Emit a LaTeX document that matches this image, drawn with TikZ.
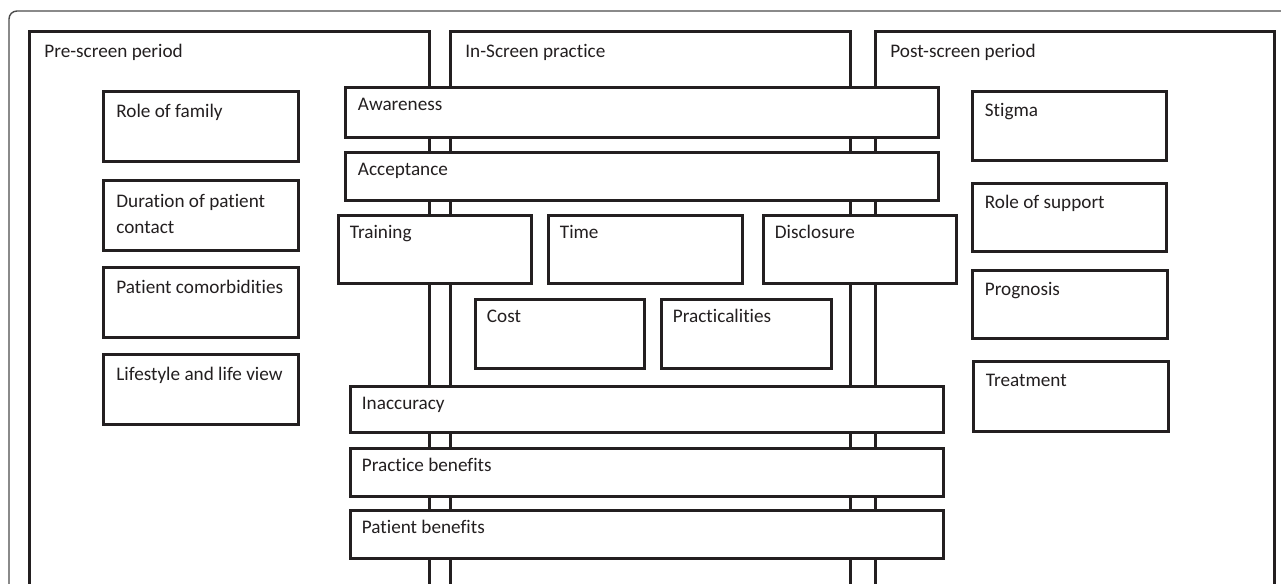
\documentclass[tikz,border=0pt]{standalone}
\usepackage{fontspec}
\setmainfont{Carlito}[Ligatures=NoCommon]
\definecolor{ink}{RGB}{35,31,32}

\begin{document}
\begin{tikzpicture}[x=0.5pt,y=-0.5pt,
  colline/.style={draw=ink,line width=1.5pt},
  box/.style={draw=ink,line width=1.5pt,fill=white,rectangle,inner sep=0pt,anchor=north west},
  txt/.style={anchor=base west,inner sep=0pt,align=left,text=ink,font=\fontsize{9.6}{13}\selectfont}]
\useasboundingbox (0,0) rectangle (1281,584);
\clip (0,0) rectangle (1281,584);
\draw[draw=black!70,line width=0.7pt,rounded corners=4pt] (9,620) |- (1320,11);
\draw[colline] (29,620) |- (429,31) -- (429,620);
\draw[colline] (450,620) |- (850,31) -- (850,620);
\draw[colline] (875,620) |- (1274,31) -- (1274,620);
\node[txt] (pre) at (44,57) {Pre-screen period};
\node[txt] (in) at (465,57) {In-Screen practice};
\node[txt] (post) at (890,57) {Post-screen period};

\node[box,minimum width=97.5pt,minimum height=35pt] (family) at (102,90) {};
\node[box,minimum width=97.5pt,minimum height=35pt] (duration) at (102,179) {};
\node[box,minimum width=97.5pt,minimum height=35pt] (comorb) at (102,266) {};
\node[box,minimum width=97.5pt,minimum height=35pt] (lifestyle) at (102,353) {};
\node[txt] (family-t) at ([shift={(14,27)}]family.north west) {Role of family};
\node[txt] (duration-t) at ([shift={(14,54)}]duration.north west) {Duration of patient\\contact};
\node[txt] (comorb-t) at ([shift={(14,27)}]comorb.north west) {Patient comorbidities};
\node[txt] (lifestyle-t) at ([shift={(14,27)}]lifestyle.north west) {Lifestyle and life view};

\node[box,minimum width=296.5pt,minimum height=25pt] (aware) at (343.5,85.5) {};
\node[box,minimum width=296.5pt,minimum height=24pt] (accept) at (343.5,150.5) {};
\node[box,minimum width=96.5pt,minimum height=34pt] (training) at (336.5,213.5) {};
\node[box,minimum width=97pt,minimum height=34pt] (time) at (546.5,213.5) {};
\node[box,minimum width=96.5pt,minimum height=34pt] (disclose) at (761.5,213.5) {};
\node[box,minimum width=84.5pt,minimum height=34.5pt] (cost) at (473.5,297.5) {};
\node[box,minimum width=85pt,minimum height=34.5pt] (practical) at (659.5,297.5) {};
\node[box,minimum width=296.5pt,minimum height=23pt] (inaccuracy) at (348.5,384.5) {};
\node[box,minimum width=296.5pt,minimum height=24pt] (practice) at (348.5,446.5) {};
\node[box,minimum width=296.5pt,minimum height=24pt] (patient) at (348.5,508.5) {};
\node[txt] (aware-t) at ([shift={(14,25)}]aware.north west) {Awareness};
\node[txt] (accept-t) at ([shift={(14,25)}]accept.north west) {Acceptance};
\node[txt] (training-t) at ([shift={(13,25)}]training.north west) {Training};
\node[txt] (time-t) at ([shift={(13,25)}]time.north west) {Time};
\node[txt] (disclose-t) at ([shift={(13,25)}]disclose.north west) {Disclosure};
\node[txt] (cost-t) at ([shift={(13,25)}]cost.north west) {Cost};
\node[txt] (practical-t) at ([shift={(13,25)}]practical.north west) {Practicalities};
\node[txt] (inaccuracy-t) at ([shift={(13,25)}]inaccuracy.north west) {Inaccuracy};
\node[txt] (practice-t) at ([shift={(13,25)}]practice.north west) {Practice benefits};
\node[txt] (patient-t) at ([shift={(13,25)}]patient.north west) {Patient benefits};

\node[box,minimum width=97pt,minimum height=34.5pt] (stigma) at (970.5,89.5) {};
\node[box,minimum width=97pt,minimum height=34pt] (support) at (970.5,181.5) {};
\node[box,minimum width=97.5pt,minimum height=34pt] (prognosis) at (970.5,268.5) {};
\node[box,minimum width=97.5pt,minimum height=35pt] (treatment) at (971.5,359.5) {};
\node[txt] (stigma-t) at ([shift={(14,27)}]stigma.north west) {Stigma};
\node[txt] (support-t) at ([shift={(14,27)}]support.north west) {Role of support};
\node[txt] (prognosis-t) at ([shift={(14,27)}]prognosis.north west) {Prognosis};
\node[txt] (treatment-t) at ([shift={(14,27)}]treatment.north west) {Treatment};
\end{tikzpicture}
\end{document}
